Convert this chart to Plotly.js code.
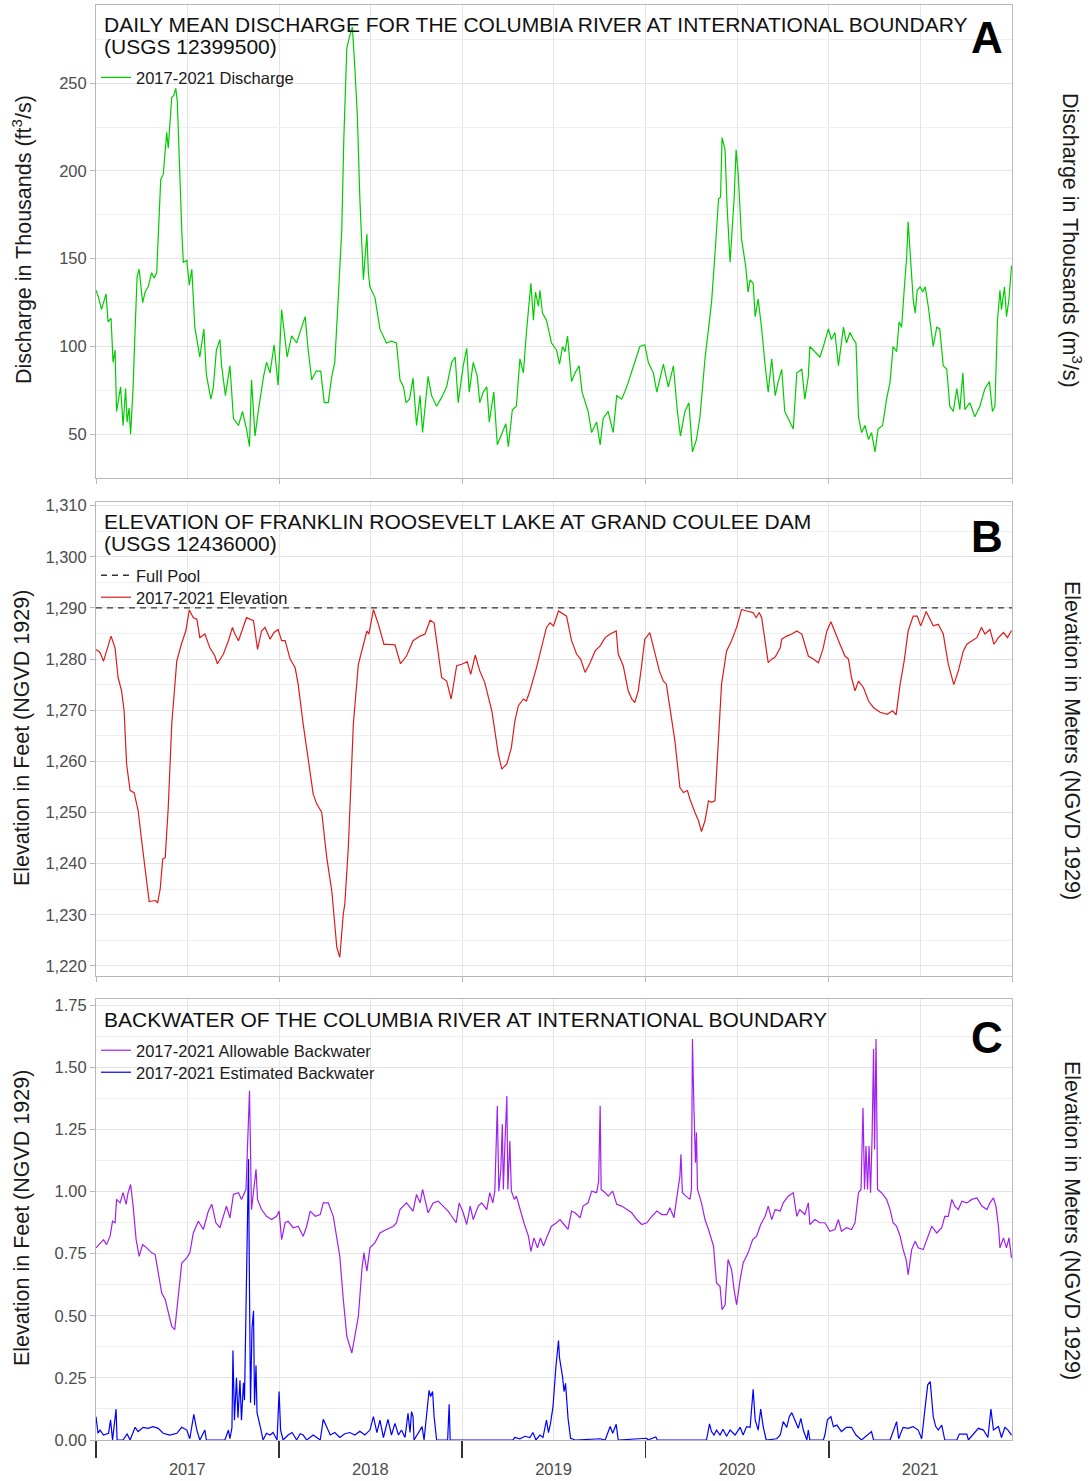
<!DOCTYPE html>
<html><head><meta charset="utf-8">
<script src="https://cdn.plot.ly/plotly-3.0.1.min.js"></script>
<style>html,body{margin:0;padding:0;background:#fff}#chart{width:1091px;height:1481px}</style>
</head><body><div id="chart"></div>
<script>
// ---------------- DATA (day = days since 2017-01-01) ----------------
const dischargeDay = [0,5,11,20,24,30,34,38,41,49,54,59,62,66,69,74,78,82,86,93,98,104,111,116,121,124,129,134,141,144,151,155,159,162,167,171,174,181,186,191,197,207,215,220,229,234,240,247,250,258,267,274,284,292,300,306,310,317,324,334,340,347,355,363,370,377,381,390,400,410,417,423,430,439,448,455,463,470,476,483,490,494,500,505,511,516,521,526,533,540,543,546,556,566,579,589,599,606,613,618,625,632,639,646,651,662,669,679,689,699,709,716,722,732,739,744,752,760,765,772,779,784,793,800,809,817,822,830,838,845,852,858,867,872,876,882,885,890,898,908,918,924,930,935,940,948,955,963,969,981,988,998,1005,1011,1021,1031,1038,1048,1058,1068,1074,1084,1094,1101,1111,1118,1131,1141,1151,1159,1165,1174,1182,1189,1197,1204,1214,1221,1227,1234,1241,1245,1248,1254,1258,1264,1267,1272,1276,1280,1287,1295,1300,1304,1310,1314,1320,1327,1334,1340,1347,1354,1360,1367,1373,1380,1390,1397,1407,1413,1420,1423,1433,1443,1450,1460,1466,1473,1480,1490,1496,1503,1510,1515,1520,1526,1533,1540,1546,1553,1559,1568,1576,1583,1589,1596,1601,1606,1611,1616,1619,1624,1629,1633,1637,1643,1648,1653,1659,1669,1676,1682,1689,1696,1702,1709,1716,1722,1728,1732,1742,1752,1762,1772,1781,1787,1792,1797,1802,1805,1811,1815,1820,1825];
const dischargeKcfs = [132,128,121,130,114,116,91,98,63,77,55,76,57,65,50,77,110,140,144,125,131,134,142,139,142,165,195,198,222,213,242,243,247,240,191,166,148,149,135,144,111,94,110,84,70,77,98,104,90,72,89,59,55,63,53,43,81,49,64,83,91,85,101,78,121,104,94,106,102,111,117,98,81,86,86,68,68,83,91,128,167,218,270,276,282,259,231,184,138,164,142,134,128,110,102,103,102,81,77,68,70,82,55,72,51,83,72,66,71,77,91,94,68,89,99,74,91,83,68,74,77,57,74,44,51,56,43,64,66,93,85,108,136,115,131,123,132,119,115,102,98,90,100,97,106,80,85,89,74,63,51,57,44,59,63,51,72,70,77,85,91,100,101,91,85,74,90,77,89,63,49,63,68,40,47,60,93,110,125,153,184,185,219,212,180,148,163,184,212,199,161,146,131,138,136,117,127,110,89,74,93,72,80,87,63,59,53,85,87,70,83,100,97,94,100,110,104,108,89,111,102,108,104,102,60,51,55,47,51,40,53,55,70,80,100,97,114,111,132,151,171,151,127,119,132,134,131,134,123,100,111,110,89,87,66,63,76,64,85,64,68,60,66,76,80,63,66,115,132,121,134,117,127,146];

const elevationDay = [0,8,15,21,30,38,44,51,56,61,68,76,84,91,101,106,118,123,128,133,138,144,151,161,171,179,186,194,201,207,217,227,237,242,254,264,272,277,284,292,300,314,322,330,337,347,355,363,370,377,387,397,403,413,423,433,440,450,460,470,480,486,493,496,503,513,523,533,540,544,553,563,574,583,596,607,619,632,646,656,666,674,682,689,699,708,719,729,740,747,756,765,775,789,795,802,809,819,828,835,842,852,858,865,878,890,898,905,912,922,932,938,948,958,966,975,985,995,1005,1015,1025,1037,1041,1051,1061,1068,1074,1081,1088,1094,1104,1114,1123,1131,1137,1144,1154,1164,1171,1179,1184,1194,1201,1207,1214,1221,1227,1234,1241,1247,1257,1267,1277,1287,1297,1310,1316,1322,1327,1334,1340,1347,1354,1364,1367,1377,1387,1397,1407,1413,1420,1430,1440,1449,1457,1465,1473,1483,1493,1500,1506,1513,1520,1530,1540,1550,1563,1577,1588,1595,1603,1611,1619,1629,1637,1644,1655,1663,1669,1679,1689,1699,1710,1719,1729,1736,1746,1756,1765,1772,1782,1790,1799,1809,1817,1825];
const elevationFt = [1281.9,1281.3,1279.6,1281.6,1284.5,1282.2,1276.4,1273.8,1269.9,1259.5,1254.3,1253.9,1250.4,1244.5,1236.7,1232.6,1232.8,1232.4,1235.1,1240.9,1241.2,1251,1267.3,1279.6,1283.2,1285.5,1289.6,1288.1,1287.8,1284.2,1284.9,1282.2,1280.6,1279.1,1281,1283.6,1286.2,1284.9,1283.6,1285.8,1288.1,1287.5,1281.9,1285.5,1286.2,1283.9,1285.2,1285.8,1283.6,1283.6,1280,1278.3,1275.1,1267.3,1260.8,1253.6,1251.7,1250,1241.2,1234.7,1223.7,1221.7,1230.2,1232.1,1243.2,1267.3,1279,1282.9,1285.5,1284.9,1289.7,1286.8,1282.9,1282.9,1282.8,1279.1,1280.6,1283.6,1284.5,1284.9,1287.6,1287.1,1281.6,1276.4,1275.7,1272.2,1278.7,1279,1279.5,1277,1280.8,1277.7,1275.4,1269.9,1266,1261.4,1258.5,1259.5,1262.7,1267.9,1270.9,1272.2,1271.8,1273.8,1278.3,1283.2,1286.2,1287.1,1286.5,1289.4,1288.8,1288.4,1283.6,1281,1280,1277.4,1279.3,1281.6,1282.6,1284.2,1284.9,1285.5,1281,1278.7,1273.8,1272.2,1271.5,1273.8,1279,1283.9,1285.2,1281,1277.7,1275.7,1275.1,1270.5,1264,1254.9,1253.9,1254.3,1252.6,1250,1248.4,1246.3,1248.4,1252.3,1252,1252.3,1266,1275.1,1281.6,1283.6,1286.2,1289.7,1289.4,1289.1,1288.1,1289.1,1288.1,1283.6,1279.3,1280,1280.4,1282.2,1283.9,1284.5,1284.9,1285.5,1284.9,1282.9,1280.6,1280,1279.3,1281.9,1285.5,1287.3,1285.5,1282.9,1280.6,1280,1276.4,1273.8,1275.7,1274.4,1271.8,1270.5,1269.6,1269.2,1269.9,1269.1,1275.1,1279.6,1285.5,1288.4,1288.4,1286.5,1289.3,1287.8,1286.5,1286.8,1284.9,1279,1275,1277.7,1281.6,1282.9,1283.6,1284.2,1286.2,1284.9,1285.8,1282.9,1284.2,1285.2,1284.2,1285.6];
const fullPoolFt = 1290;

const allowableDay = [0,8,15,21,28,33,38,41,48,54,60,64,69,74,80,86,93,101,111,118,124,131,138,143,151,157,164,171,181,187,194,204,214,224,231,239,247,254,260,267,274,284,290,299,303,306,310,315,319,322,330,340,350,360,365,370,377,383,393,403,413,420,427,437,447,453,463,473,480,486,493,500,510,516,523,530,534,540,546,556,566,579,593,599,606,619,632,639,646,651,662,672,682,692,702,709,718,724,732,739,746,752,762,769,779,785,791,795,798,800,803,807,810,812,815,819,821,825,828,834,838,845,853,862,867,873,880,886,892,898,908,918,925,933,941,948,955,965,971,981,988,998,1002,1005,1007,1015,1021,1030,1038,1048,1058,1068,1078,1088,1098,1108,1118,1128,1138,1144,1152,1159,1164,1166,1169,1176,1184,1187,1189,1192,1195,1197,1199,1207,1214,1221,1231,1237,1244,1248,1254,1260,1267,1272,1277,1284,1290,1300,1309,1317,1325,1334,1340,1347,1354,1364,1370,1380,1390,1397,1403,1413,1420,1423,1433,1443,1453,1463,1473,1480,1486,1496,1506,1513,1520,1525,1529,1532,1535,1538,1541,1544,1547,1550,1552,1555,1558,1566,1576,1583,1589,1596,1603,1609,1615,1619,1626,1633,1639,1649,1659,1666,1676,1686,1692,1699,1706,1712,1719,1726,1736,1746,1756,1766,1776,1782,1789,1794,1799,1802,1809,1815,1820,1825];
const allowableFt = [0.773,0.793,0.806,0.786,0.820,0.880,0.874,0.968,0.954,0.995,0.948,0.995,1.028,0.941,0.806,0.739,0.786,0.773,0.753,0.746,0.672,0.591,0.565,0.524,0.457,0.444,0.578,0.712,0.733,0.753,0.833,0.880,0.847,0.921,0.948,0.874,0.854,0.900,0.941,0.894,0.988,0.995,0.968,1.008,1.237,1.405,0.927,1.008,1.089,0.968,0.927,0.900,0.887,0.900,0.921,0.806,0.874,0.880,0.854,0.860,0.820,0.860,0.921,0.900,0.907,0.954,0.954,0.900,0.820,0.739,0.565,0.417,0.350,0.417,0.497,0.685,0.753,0.679,0.773,0.793,0.833,0.847,0.860,0.874,0.927,0.954,0.921,0.988,0.954,1.008,0.914,0.954,0.961,0.941,0.921,0.900,0.874,0.954,0.914,0.867,0.941,0.887,0.941,0.954,0.927,0.995,0.954,1.001,1.203,1.344,1.001,1.089,1.270,1.008,1.183,1.384,1.008,1.203,1.001,0.968,0.981,0.927,0.874,0.820,0.759,0.813,0.773,0.813,0.780,0.813,0.860,0.874,0.887,0.867,0.847,0.921,0.914,0.894,0.941,0.954,1.001,0.995,1.042,1.344,1.008,0.995,0.981,1.001,0.948,0.941,0.927,0.914,0.887,0.867,0.874,0.900,0.921,0.907,0.907,0.934,0.894,0.981,1.062,1.149,0.995,0.981,0.968,1.008,1.613,1.331,1.116,1.237,1.008,0.954,0.887,0.847,0.780,0.632,0.618,0.524,0.544,0.726,0.685,0.605,0.544,0.645,0.712,0.753,0.806,0.820,0.867,0.900,0.941,0.887,0.927,0.921,0.954,0.981,0.995,0.900,0.927,0.907,0.954,0.867,0.887,0.874,0.874,0.840,0.847,0.887,0.840,0.854,0.847,0.874,0.995,1.008,1.337,1.008,1.183,1.008,1.183,0.995,1.210,1.573,1.169,1.613,1.008,0.995,0.968,0.927,0.874,0.860,0.820,0.766,0.726,0.665,0.766,0.800,0.773,0.766,0.820,0.860,0.833,0.854,0.900,0.900,0.968,0.941,0.927,0.961,0.954,0.968,0.974,0.941,0.927,0.954,0.974,0.941,0.860,0.773,0.813,0.773,0.813,0.733];

const estimatedDay = [0,4,8,15,25,29,33,40,42,54,62,68,78,84,94,104,114,124,134,147,161,171,181,187,195,201,207,217,220,257,264,267,271,273,276,280,283,287,290,294,296,299,301,304,306,308,311,314,316,319,321,325,329,333,340,347,353,361,365,368,373,383,391,400,407,413,420,433,447,453,460,467,476,486,496,506,516,526,536,546,553,560,566,573,582,589,596,603,609,616,622,626,629,632,634,650,654,664,667,671,674,679,701,704,706,831,835,845,855,865,871,877,885,891,898,902,906,911,917,922,924,926,930,933,936,941,946,955,1005,1015,1025,1030,1037,1041,1098,1100,1116,1119,1217,1223,1227,1232,1237,1244,1250,1257,1264,1274,1284,1290,1297,1304,1310,1314,1320,1325,1330,1336,1357,1364,1370,1377,1382,1387,1393,1400,1405,1410,1417,1420,1423,1450,1453,1458,1465,1470,1477,1486,1496,1506,1515,1526,1546,1550,1583,1596,1600,1609,1619,1629,1639,1646,1653,1658,1663,1666,1669,1674,1679,1686,1692,1716,1721,1736,1739,1759,1769,1778,1784,1789,1799,1805,1812,1818,1825];
const estimatedFt = [0.094,0.027,0.04,0.02,0.027,0.081,0,0.124,0,0,0.024,0,0.051,0.034,0.051,0.047,0.054,0.047,0.027,0.02,0.027,0.051,0.04,0.005,0.103,0.04,0,0.04,0,0,0.04,0.005,0.05,0.36,0.08,0.25,0.09,0.24,0.08,0.23,0.16,0.48,0.7,1.13,0.6,0.15,0.45,0.52,0.14,0.3,0.11,0.08,0.04,0,0.027,0.02,0.03,0,0.195,0.04,0,0.02,0.03,0,0.025,0.02,0,0.02,0,0.083,0.054,0.02,0.03,0.01,0.025,0.03,0.02,0.035,0.02,0.04,0.094,0.03,0.08,0.01,0.083,0.02,0.067,0.02,0.04,0.01,0.107,0.03,0.114,0.094,0,0.054,0,0.2,0.175,0.195,0.094,0,0,0.144,0,0,0.01,0.005,0.015,0.01,0.03,0,0.02,0.01,0.08,0.03,0.067,0.134,0.3,0.40,0.33,0.309,0.255,0.195,0.228,0.087,0.007,0,0.005,0,0.054,0.027,0.063,0,0.007,0,0.012,0,0,0.065,0.034,0.02,0.04,0.02,0.043,0.015,0.04,0.02,0.051,0.02,0.054,0.051,0.204,0.081,0.04,0.124,0.054,0,0.005,0.02,0.074,0.051,0.094,0.11,0.081,0.047,0.087,0.04,0,0.04,0,0,0.02,0.081,0.094,0.054,0.06,0.034,0.051,0.051,0.02,0,0.034,0,0,0.074,0.005,0.051,0.047,0.054,0.04,0.005,0.134,0.222,0.235,0.161,0.094,0.054,0.04,0.06,0,0,0.024,0.024,0,0.047,0.04,0.01,0.124,0.04,0.054,0.01,0.051,0.04,0.02];

const yearLabels = ['2017','2018','2019','2020','2021'];
const CFS_TO_CMS = 0.0283168;
const FT_TO_M = 0.3048;

// ---------------- helpers ----------------
const DAY_MS = 86400000, T0 = Date.UTC(2017,0,1);
const toDate = d => new Date(T0 + d*DAY_MS).toISOString().slice(0,10);
const yearStart = yearLabels.map(y => y + '-01-01');
const yearMid = yearLabels.map(y => y + '-07-02');
const xRange = ['2017-01-01','2022-01-01'];

// pixel geometry of the figure
const W = 1091, H = 1481, PL = 96, PR = 1012, PT = 5, PB = 1440;
const fx = px => (px - PL) / (PR - PL);
const fy = py => (PB - py) / (PB - PT);

const FONT = 'Liberation Sans, Arial, sans-serif';
const GRID = '#e4e4e4', MINOR = '#f0f0f0', BORDER = '#b8b8b8', TICKTXT = '#4d4d4d';

const rangeA = [25.1, 294.5], rangeB = [1218.1, 1310.66], rangeC = [0, 1.773];

const traces = [
  {x: dischargeDay.map(toDate), y: dischargeKcfs, type:'scatter', mode:'lines', xaxis:'x', yaxis:'y',
   line:{color:'#00cd00', width:1.2}, name:'2017-2021 Discharge', legend:'legend', showlegend:true},
  {x: xRange, y: [fullPoolFt, fullPoolFt], type:'scatter', mode:'lines', xaxis:'x2', yaxis:'y3',
   line:{color:'#333333', width:1.3, dash:'6px,5px'}, name:'Full Pool', legend:'legend2', showlegend:true},
  {x: elevationDay.map(toDate), y: elevationFt, type:'scatter', mode:'lines', xaxis:'x2', yaxis:'y3',
   line:{color:'#dd1c1c', width:1.2}, name:'2017-2021 Elevation', legend:'legend3', showlegend:true},
  {x: allowableDay.map(toDate), y: allowableFt, type:'scatter', mode:'lines', xaxis:'x3', yaxis:'y5',
   line:{color:'#a020f0', width:1.2}, name:'2017-2021 Allowable Backwater', legend:'legend4', showlegend:true},
  {x: estimatedDay.map(toDate), y: estimatedFt, type:'scatter', mode:'lines', xaxis:'x3', yaxis:'y5',
   line:{color:'#0000ff', width:1.2}, name:'2017-2021 Estimated Backwater', legend:'legend5', showlegend:true}
];

function xAxis(anchor, labels) {
  const ax = {
    type:'date', range:xRange, anchor:anchor, showline:true, linecolor:BORDER, linewidth:1, mirror:true,
    zeroline:false, showgrid:true, gridcolor:GRID, gridwidth:1,
    tickmode:'array', tickvals:yearMid, ticktext:yearLabels,
    showticklabels:labels, tickfont:{size:16.5, color:TICKTXT, family:FONT},
    minor:{tickmode:'array', tickvals: labels ? yearStart : yearStart.concat(['2022-01-01']),
           ticks:'outside', ticklen: labels ? 17 : 5, tickwidth: labels ? 1.5 : 1,
           tickcolor: labels ? '#333333' : BORDER, showgrid:true, gridcolor:GRID, gridwidth:1}
  };
  if (labels) { ax.ticks = 'outside'; ax.ticklen = 14; ax.tickcolor = 'rgba(0,0,0,0)'; }
  else { ax.ticks = ''; }
  return ax;
}
function yLeft(anchor, domain, range, dtick, fmt) {
  return {anchor:anchor, domain:domain, range:range, tickmode:'linear', tick0:0, dtick:dtick, tickformat:fmt,
    showline:true, linecolor:BORDER, linewidth:1, mirror:true, zeroline:false,
    showgrid:true, gridcolor:GRID, gridwidth:1, ticks:'outside', ticklen:5, tickcolor:BORDER,
    tickfont:{size:16.5, color:TICKTXT, family:FONT},
    minor:{tickmode:'linear', dtick:dtick/2, showgrid:true, gridcolor:MINOR, gridwidth:1, ticks:''}};
}
function yRight(anchor, over, range, dtick, fmt) {
  return {anchor:anchor, overlaying:over, side:'right', range:range, tickmode:'linear', tick0:0, dtick:dtick,
    tickformat:fmt, showline:false, zeroline:false, showgrid:false, ticks:'outside', ticklen:5, tickcolor:BORDER,
    tickfont:{size:16.5, color:TICKTXT, family:FONT}};
}

const domA = [fy(478), 1], domB = [fy(975.7), fy(502.3)], domC = [0, fy(999.3)];

// one legend per entry so each entry sits exactly where the reference has it
const legendBase = {xanchor:'left', yanchor:'top', bgcolor:'rgba(0,0,0,0)', borderwidth:0,
  font:{size:16.5, color:'#1a1a1a', family:FONT}, tracegroupgap:0, itemwidth:30, traceorder:'normal'};
const legendAt = (xpx, centerPx) => Object.assign({x:fx(xpx), y:fy(centerPx - 17)}, legendBase);

function ann(text, xpx, ypx, opts) {
  return Object.assign({text:text, xref:'paper', yref:'paper', x:fx(xpx), y:fy(ypx), showarrow:false,
    xanchor:'left', yanchor:'middle', font:{family:FONT, size:21, color:'#111'}}, opts || {});
}
const titleFont = {family:FONT, size:21.5, color:'#1a1a1a'};
const letterFont = {family:FONT, size:44, color:'#000', weight:'bold'};

const annotations = [
  ann('DAILY MEAN DISCHARGE FOR THE COLUMBIA RIVER AT INTERNATIONAL BOUNDARY', 102, 24.5),
  ann('(USGS 12399500)', 102, 46.5),
  ann('ELEVATION OF FRANKLIN ROOSEVELT LAKE AT GRAND COULEE DAM', 102, 521.5),
  ann('(USGS 12436000)', 102, 543.5),
  ann('BACKWATER OF THE COLUMBIA RIVER AT INTERNATIONAL BOUNDARY', 102, 1019.5),
  ann('<b>A</b>', 1005, 38, {xanchor:'right', font:letterFont}),
  ann('<b>B</b>', 1005, 536, {xanchor:'right', font:letterFont}),
  ann('<b>C</b>', 1005, 1037, {xanchor:'right', font:letterFont}),
  ann('Discharge in Thousands (ft<sup>3</sup>/s)', 22, 240, {xanchor:'center', textangle:-90, font:titleFont}),
  ann('Discharge in Thousands (m<sup>3</sup>/s)', 1072, 240, {xanchor:'center', textangle:90, font:titleFont}),
  ann('Elevation in Feet (NGVD 1929)', 22, 738, {xanchor:'center', textangle:-90, font:titleFont}),
  ann('Elevation in Meters (NGVD 1929)', 1072, 740, {xanchor:'center', textangle:90, font:titleFont}),
  ann('Elevation in Feet (NGVD 1929)', 22, 1218, {xanchor:'center', textangle:-90, font:titleFont}),
  ann('Elevation in Meters (NGVD 1929)', 1072, 1220, {xanchor:'center', textangle:90, font:titleFont})
];

const layout = {
  width:W, height:H, margin:{l:PL, r:W-PR, t:PT, b:H-PB, pad:0},
  paper_bgcolor:'#ffffff', plot_bgcolor:'#ffffff', font:{family:FONT, color:'#1a1a1a'},
  hovermode:false, showlegend:true,
  xaxis: xAxis('y', false),
  xaxis2: Object.assign(xAxis('y3', false), {matches:'x'}),
  xaxis3: Object.assign(xAxis('y5', true), {matches:'x'}),
  yaxis: yLeft('x', domA, rangeA, 50, ''),
  yaxis2: yRight('x', 'y', rangeA.map(v => v*CFS_TO_CMS), 2, ''),
  yaxis3: yLeft('x2', domB, rangeB, 10, ',d'),
  yaxis4: yRight('x2', 'y3', rangeB.map(v => v*FT_TO_M), 5, 'd'),
  yaxis5: yLeft('x3', domC, rangeC, 0.25, '.2f'),
  yaxis6: yRight('x3', 'y5', rangeC.map(v => v*FT_TO_M), 0.1, '.2f'),
  legend:  legendAt(96, 77.2),
  legend2: legendAt(96, 575),
  legend3: legendAt(96, 597),
  legend4: legendAt(96, 1050),
  legend5: legendAt(96, 1072),
  annotations: annotations
};

Plotly.newPlot('chart', traces, layout, {displayModeBar:false, staticPlot:true});
</script>
</body></html>
